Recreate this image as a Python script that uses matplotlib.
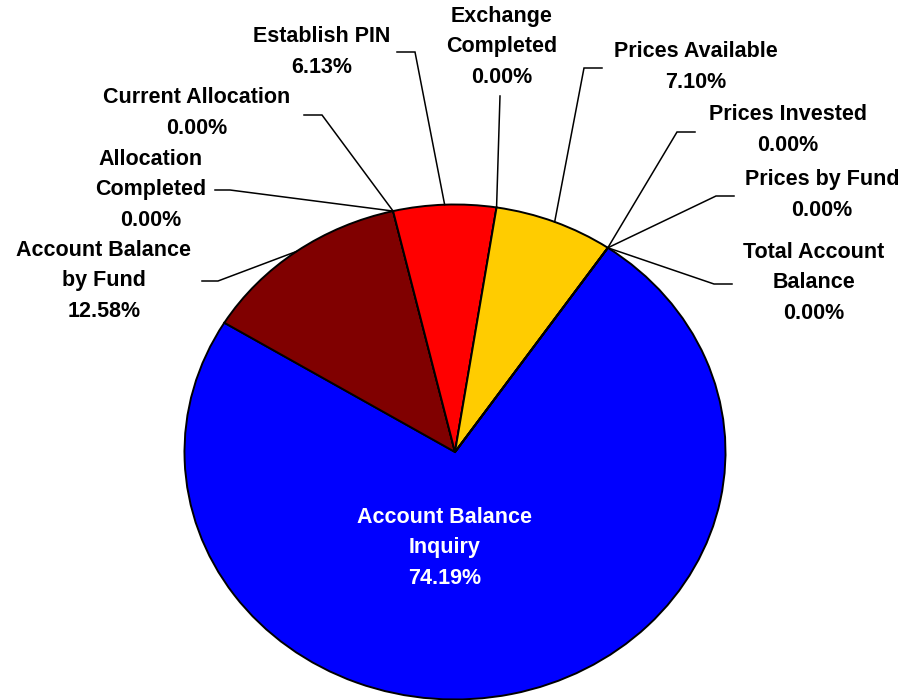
import math
import matplotlib
matplotlib.use("Agg")
import matplotlib.pyplot as plt

# data
categories = ["Account Balance Inquiry", "Account Balance by Fund", "Allocation Completed",
              "Current Allocation", "Establish PIN", "Exchange Completed", "Prices Available",
              "Prices Invested", "Prices by Fund", "Total Account Balance"]
shares = [74.19, 12.58, 0.00, 0.00, 6.13, 0.00, 7.10, 0.00, 0.00, 0.00]
label_names = ["Account Balance\nInquiry", "Account Balance\nby Fund", "Allocation\nCompleted",
               "Current Allocation", "Establish PIN", "Exchange\nCompleted", "Prices Available",
               "Prices Invested", "Prices by Fund", "Total Account\nBalance"]
colors = ["#0000FF", "#800000", "#800000", "#800000", "#FF0000", "#FF0000",
          "#FFCC00", "#FFCC00", "#FFCC00", "#FFCC00"]

# layout (pixels in the 912x700 picture): label centre, leader start, leader elbow
label_pos = [(445, 548), (104, 281), (151, 190), (197, 113), (322, 52),
             (502, 47), (696, 67), (788, 130), (822, 195), (814, 283)]
leader_pts = [None,
              [(202, 281), (218, 281)],
              [(215, 190), (230, 190)],
              [(304, 115), (322, 115)],
              [(397, 52), (415, 52)],
              [(500, 96)],
              [(602, 68), (584, 68)],
              [(695, 132), (677, 132)],
              [(734, 196), (716, 196)],
              [(732, 284), (714, 284)]]

W, H = 912, 700
CX, CY, RX, RY = 455, 452, 270.5, 247.5

fig = plt.figure(figsize=(W / 100, H / 100), dpi=100)
ax = fig.add_axes([0, 0, 1, 1])
wedges, _ = ax.pie(shares, colors=colors, startangle=55.6, counterclock=False,
                   wedgeprops=dict(edgecolor="black", linewidth=1.4))
ax.set_aspect("auto")
ax.set_xlim(-CX / RX, (W - CX) / RX)
ax.set_ylim(-(H - CY) / RY, CY / RY)
ax.axis("off")


def px(p):
    # picture pixels -> data units of the (elliptical) pie
    return ((p[0] - CX) / RX, (CY - p[1]) / RY)


font = dict(family=["Liberation Sans", "DejaVu Sans"], fontweight="bold", fontsize=15.5)
for i, w in enumerate(wedges):
    txt = "%s\n%.2f%%" % (label_names[i], shares[i])
    x, y = px(label_pos[i])
    ax.text(x, y, txt, ha="center", va="center", multialignment="center",
            color="white" if i == 0 else "black", linespacing=1.57, **font)
    if leader_pts[i] is None:
        continue
    a = math.radians((w.theta1 + w.theta2) / 2)
    pts = [px(p) for p in leader_pts[i]] + [(math.cos(a), math.sin(a))]
    ax.plot([p[0] for p in pts], [p[1] for p in pts], color="black", lw=1.1,
            solid_joinstyle="miter")

fig.savefig("out.png", dpi=100)
